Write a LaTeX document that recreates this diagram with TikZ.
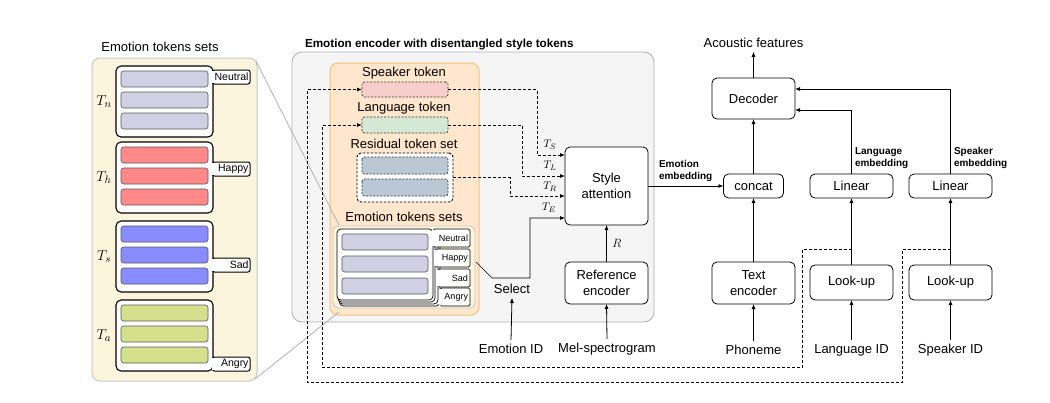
\documentclass[tikz,border=0pt]{standalone}
\usepackage{fontspec}
\setmainfont{Liberation Sans}
\usetikzlibrary{arrows.meta}
\definecolor{cream}{RGB}{252,245,221}
\definecolor{gpfill}{RGB}{245,245,245}
\definecolor{gpline}{RGB}{175,175,175}
\definecolor{orfill}{RGB}{255,230,204}
\definecolor{orline}{RGB}{243,196,120}
\definecolor{lav}{RGB}{208,208,228}
\definecolor{redb}{RGB}{255,136,136}
\definecolor{blueb}{RGB}{136,140,255}
\definecolor{greenb}{RGB}{213,224,140}
\definecolor{spkpink}{RGB}{248,206,204}
\definecolor{lnggreen}{RGB}{213,232,212}
\definecolor{resblue}{RGB}{186,200,212}
\begin{document}
\begin{tikzpicture}[x=1pt,y=-1pt,
  every node/.style={inner sep=0pt,outer sep=0pt},
  txt/.style={font=\fontsize{13}{15.5}\selectfont,align=center,inner sep=4pt},
  box/.style={draw,rounded corners=5pt,fill=white,line width=0.8pt,font=\fontsize{13}{15.5}\selectfont,align=center},
  smallb/.style={font=\bfseries\fontsize{10}{11.5}\selectfont,align=left},
  arr/.style={-{Latex[length=5pt,width=4pt]},line width=0.8pt},
  dsh/.style={dash pattern=on 3pt off 2pt,line width=0.8pt},
  bar/.style={draw=black!65,rounded corners=2.5pt,line width=0.6pt},
  dbar/.style={draw=black!80,rounded corners=2.5pt,line width=0.7pt,dash pattern=on 2pt off 1.5pt},
  grp/.style={draw,rounded corners=5pt,fill=white,line width=1.1pt,minimum width=97pt,minimum height=71pt},
  tlab/.style={font=\fontsize{10.5}{12}\selectfont},
  mtlab/.style={font=\fontsize{9}{10}\selectfont},
  Tlab/.style={font=\fontsize{11}{12}\selectfont}
]
\useasboundingbox (0,0) rectangle (1050,402);

% ---------------- left panel ----------------
\node[txt] (ltitle) at (160,47) {Emotion tokens sets};
\node[draw=black!22,fill=cream,rounded corners=8pt,line width=1pt,minimum width=165pt,minimum height=323pt] (lpanel) at (174.5,219.5) {};
\foreach \y/\lab/\col/\ty/\s in {66/Neutral/lav/70/n,142/Happy/redb/162/h,221/Sad/blueb/258/s,300/Angry/greenb/357/a}{
  \node[grp] (g\s) at (164.5,\y+35.5) {};
  \foreach \k in {0,1,2} \draw[bar,fill=\col] (121,\y+5+21*\k) rectangle (208,\y+21+21*\k);
  \draw[line width=1pt,fill=white,rounded corners=2pt] (212.5,\ty) rectangle (250,\ty+14);
  \fill[white] (211.6,\ty+0.7) rectangle (214.2,\ty+13.3);
  \node[tlab,anchor=east] (tl\s) at (248.5,\ty+7) {\lab};
  \node[font=\fontsize{15.5}{15.5}\selectfont] (T\s) at (104,\y+35.5) {$T_\s$};
}

% ---------------- middle panel ----------------
\node[font=\bfseries\fontsize{11.7}{13}\selectfont,anchor=west] (gtitle) at (305,44) {Emotion encoder with disentangled style tokens};
\node[draw=gpline,fill=gpfill,rounded corners=10pt,line width=0.8pt,minimum width=362pt,minimum height=270pt] (gpanel) at (473,187) {};
\node[draw=orline,fill=orfill,rounded corners=8pt,line width=1pt,minimum width=149pt,minimum height=252pt] (opanel) at (404.5,189) {};

\node[txt] (spklab) at (404,73) {Speaker token};
\node[dbar,fill=spkpink,minimum width=86pt,minimum height=15pt] (spk) at (405,89.5) {};
\node[txt] (lnglab) at (404,108) {Language token};
\node[dbar,fill=lnggreen,minimum width=86pt,minimum height=16pt] (lng) at (405,125) {};
\node[txt] (reslab) at (404,144) {Residual token set};
\node[draw,fill=white,rounded corners=4pt,line width=0.9pt,dash pattern=on 2.5pt off 1.5pt,minimum width=96pt,minimum height=49pt] (res) at (405,177.5) {};
\draw[dbar,fill=resblue] (362,157) rectangle (448,174);
\draw[dbar,fill=resblue] (362,179) rectangle (448,196);
\node[txt] (emolab) at (404,217) {Emotion tokens sets};

% connecting gray lines
\draw[black!30,line width=0.8pt] (lpanel.north east) ++(-1,3) coordinate (lc1) -- (339,225);
\draw[black!30,line width=0.8pt] (lpanel.south east) ++(-2,-2) coordinate (lc2) -- (339,312);

\node[draw=black!22,fill=cream,rounded corners=6pt,line width=0.8pt,minimum width=142pt,minimum height=82pt] (emoset) at (404,267) {};
\foreach \k/\lab/\tt/\tb/\bx in {3/Angry/288/306/440,2/Sad/269/287/438,1/Happy/249/267/435,0/Neutral/229/247/433}{
  \draw[fill=white,line width=0.7pt,rounded corners=4pt] (337+0.8*\k,229+2*\k) rectangle (\bx,300+2*\k);
  \draw[fill=white,line width=0.7pt,rounded corners=1.5pt] (\bx,\tt) rectangle (470,\tb);
  \fill[white] (\bx-0.7,\tt+0.7) rectangle (\bx+0.7,\tb-0.7);
  \node[mtlab,anchor=east] (mt\lab) at (468,{(\tt+\tb)/2}) {\lab};
}
\foreach \k in {0,1,2} \draw[bar,fill=lav] (342,234+22*\k) rectangle (428,250+22*\k);

\node[box,minimum width=83pt,minimum height=78pt] (sa) at (606.5,186) {Style\\attention};
\node[box,minimum width=83pt,minimum height=42pt] (ref) at (606.5,283) {Reference\\encoder};
\node[txt] (sel) at (512,289) {Select};
\node[txt] (eid) at (511,349) {Emotion ID};
\node[txt] (mel) at (607,349) {Mel-spectrogram};

\draw[arr] (eid.north) -- (sel.south);
\draw[arr] (mel.north) -- (ref.south);
\draw[arr] (ref.north) -- (sa.south);
\node[font=\fontsize{12}{12}\selectfont] (Rlab) at (617,243) {$R$};

\draw[arr,line width=0.7pt] ([xshift=8pt,yshift=-4pt]mtHappy.east) -- (492,278) -- (530,278) |- ([yshift=-32pt]sa.west);
\draw[dsh,arr] (spk.east) -- ++(89,0) |- ([yshift=31pt]sa.west);
\draw[dsh,arr] (lng.east) -- ++(74,0) |- ([yshift=10pt]sa.west);
\draw[dsh,arr] (res.east) -- ++(57,0) |- ([yshift=-10pt]sa.west);
\node[Tlab] (TS) at (550,145) {$T_S$};
\node[Tlab] (TL) at (550,166) {$T_L$};
\node[Tlab] (TR) at (550,187) {$T_R$};
\node[Tlab] (TE) at (549,208) {$T_E$};

% ---------------- right side ----------------
\node[txt] (ac) at (753.5,43) {Acoustic features};
\node[box,minimum width=83pt,minimum height=41pt] (dec) at (753.5,98.5) {Decoder};
\node[box,minimum width=60pt,minimum height=24pt] (cat) at (753.5,186) {concat};
\node[box,minimum width=83pt,minimum height=24pt] (lin1) at (851.5,186) {Linear};
\node[box,minimum width=83pt,minimum height=24pt] (lin2) at (950.5,186) {Linear};
\node[box,minimum width=83pt,minimum height=42pt] (tenc) at (753.5,283) {Text\\encoder};
\node[box,minimum width=83pt,minimum height=35pt] (lk1) at (851.5,282.5) {Look-up};
\node[box,minimum width=83pt,minimum height=35pt] (lk2) at (950.5,282.5) {Look-up};
\node[txt] (ph) at (753.5,350) {Phoneme};
\node[txt] (lid) at (851.5,350) {Language ID};
\node[txt] (sid) at (950.5,350) {Speaker ID};

\draw[arr] (dec.north) -- (ac.south);
\draw[arr] (cat.north) -- (dec.south);
\draw[arr] (tenc.north) -- (cat.south);
\draw[arr] (ph.north) -- (tenc.south);
\draw[arr] (lk1.north) -- (lin1.south);
\draw[arr] (lid.north) -- (lk1.south);
\draw[arr] (lk2.north) -- (lin2.south);
\draw[arr] (sid.north) -- (lk2.south);
\draw[arr] (sa.east) -- (cat.west);
\draw[arr] (lin1.north) |- ([yshift=-11.5pt]dec.east);
\draw[arr] (lin2.north) |- ([yshift=9.5pt]dec.east);
\node[smallb,anchor=west] (eemb) at (659,171) {Emotion\\embedding};
\node[smallb,anchor=west] (lemb) at (855,158) {Language\\embedding};
\node[smallb,anchor=west] (semb) at (954,158) {Speaker\\embedding};

% dashed feedback loops
\coordinate (lbr) at (851.5,249);
\coordinate (sbr) at (950.5,249);
\draw[dsh,arr] (lbr) -| (802,367) -| (322,125) -- (lng.west);
\draw[dsh,arr] (sbr) -| (902,382) -| (307,89.5) -- (spk.west);
\end{tikzpicture}
\end{document}
